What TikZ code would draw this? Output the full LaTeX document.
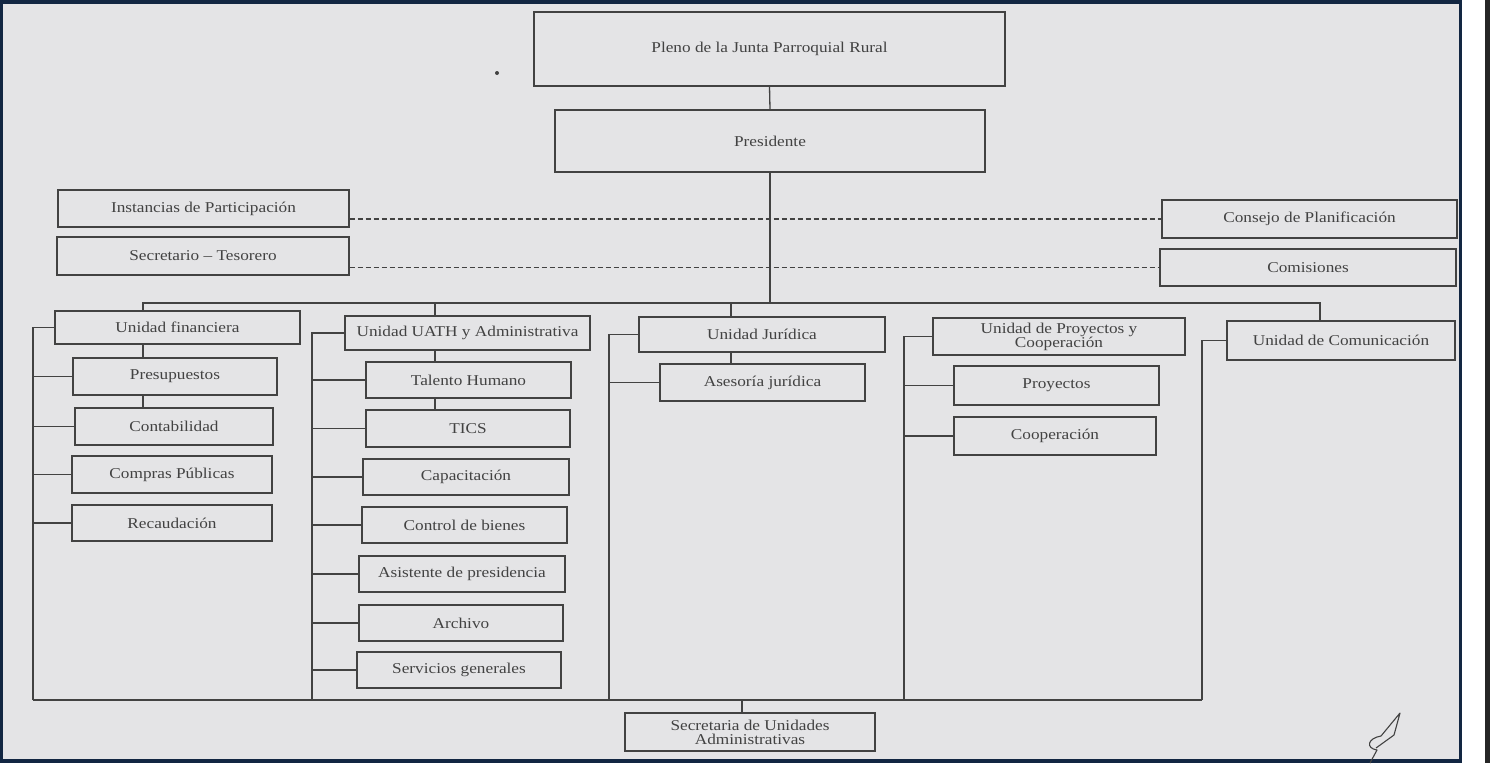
\documentclass[tikz,border=0pt]{standalone}
\usepackage{fontspec}
\setmainfont[FakeStretch=1.15]{Liberation Serif}
\usepackage{tikz}

\definecolor{paper}{RGB}{228,228,230}
\definecolor{ink}{RGB}{66,66,66}
\definecolor{frame}{RGB}{18,38,66}

\begin{document}
\begin{tikzpicture}[x=1pt, y=-1pt,
    unit/.style={draw=ink, line width=1.4pt, fill=paper, text=ink, inner sep=0pt,
                 align=center, font=\fontsize{15}{14}\selectfont},
    link/.style={draw=ink, line width=1.3pt},
    dotted link/.style={draw=ink, line width=1.3pt, dash pattern=on 5pt off 3pt}]
    \useasboundingbox (0,0) rectangle (1490,763);

    % Scanned page
    \fill[paper] (0,0) rectangle (1460,763);
    \fill[white] (1460,0) rectangle (1490,763);
    \fill[frame] (0,0) rectangle (1460,4);
    \fill[frame] (0,0) rectangle (3,763);
    \fill[frame] (0,759) rectangle (1460,763);
    \fill[frame] (1459,0) rectangle (1462,763);
    \fill[black!85] (1485,0) rectangle (1490,763);
    \fill[ink] (497,73) circle (2);

    % Top levels
    \node[unit, minimum width=471, minimum height=74] (pleno) at (769.5,49) {Pleno de la Junta Parroquial Rural};
    \node[unit, minimum width=430, minimum height=62] (pres) at (770,141) {Presidente};

    % Side bodies
    \node[unit, minimum width=291, minimum height=37] (inst) at (203.5,208.5) {Instancias de Participación};
    \node[unit, minimum width=292, minimum height=38] (secr) at (203,256) {Secretario -- Tesorero};
    \node[unit, minimum width=295, minimum height=38] (cons) at (1309.5,219) {Consejo de Planificación};
    \node[unit, minimum width=296, minimum height=37] (comi) at (1308,267.5) {Comisiones};

    % Unidad financiera
    \node[unit, minimum width=245, minimum height=33] (ufin) at (177.5,327.5) {Unidad financiera};
    \node[unit, minimum width=204, minimum height=37] (presu) at (175,376.5) {Presupuestos};
    \node[unit, minimum width=198, minimum height=37] (cont) at (174,426.5) {Contabilidad};
    \node[unit, minimum width=200, minimum height=37] (comp) at (172,474.5) {Compras Públicas};
    \node[unit, minimum width=200, minimum height=36] (reca) at (172,523) {Recaudación};

    % Unidad UATH
    \node[unit, minimum width=245, minimum height=34] (uath) at (467.5,333) {Unidad UATH y Administrativa};
    \node[unit, minimum width=205, minimum height=36] (tal) at (468.5,380) {Talento Humano};
    \node[unit, minimum width=204, minimum height=37] (tics) at (468,428.5) {TICS};
    \node[unit, minimum width=206, minimum height=36] (capa) at (466,477) {Capacitación};
    \node[unit, minimum width=205, minimum height=36] (ctrl) at (464.5,525) {Control de bienes};
    \node[unit, minimum width=206, minimum height=36] (asis) at (462,574) {Asistente de presidencia};
    \node[unit, minimum width=204, minimum height=36] (arch) at (461,623) {Archivo};
    \node[unit, minimum width=204, minimum height=36] (serv) at (459,670) {Servicios generales};

    % Unidad Juridica
    \node[unit, minimum width=246, minimum height=35] (jur) at (762,334.5) {Unidad Jurídica};
    \node[unit, minimum width=205, minimum height=37] (ases) at (762.5,382.5) {Asesoría jurídica};

    % Proyectos y Cooperacion
    \node[unit, minimum width=252, minimum height=37] (uproy) at (1059,336.5) {Unidad de Proyectos y\\Cooperación};
    \node[unit, minimum width=205, minimum height=39] (proy) at (1056.5,385.5) {Proyectos};
    \node[unit, minimum width=202, minimum height=38] (coop) at (1055,436) {Cooperación};

    % Comunicacion and bottom unit
    \node[unit, minimum width=228, minimum height=39] (comu) at (1341,340.5) {Unidad de Comunicación};
    \node[unit, minimum width=250, minimum height=38] (secua) at (750,732) {Secretaria de Unidades\\Administrativas};

    % Upper connectors
    \coordinate (busL) at (143,303);
    \coordinate (busR) at (1320,303);
    \coordinate (dA) at (435,303);
    \coordinate (dJ) at (731,303);
    \draw[link] (pleno.south) -- (pres.north);
    \draw[link] (pres.south) -- (pres.south |- busL);
    \draw[link] (busL |- ufin.north) -- (busL) -- (busR) -- (busR |- comu.north);
    \draw[link] (dA) -- (dA |- uath.north);
    \draw[link] (dJ) -- (dJ |- jur.north);
    \draw[dotted link] (inst.east |- cons.west) -- (cons.west);
    \draw[dotted link] (secr.east |- comi.west) -- (comi.west);

    % Chains under the units
    \draw[link] (ufin.south -| busL) -- (presu.north -| busL);
    \draw[link] (presu.south -| busL) -- (cont.north -| busL);
    \draw[link] (uath.south -| dA) -- (tal.north -| dA);
    \draw[link] (tal.south -| dA) -- (tics.north -| dA);
    \draw[link] (jur.south -| dJ) -- (ases.north -| dJ);

    % Side spines and lower bus
    \coordinate (sF) at (33,700);
    \coordinate (sA) at (312,700);
    \coordinate (sJ) at (609,700);
    \coordinate (sP) at (904,700);
    \coordinate (sC) at (1202,700);
    \coordinate (sS) at (742,700);
    \draw[link] (sF) -- (sC);
    \draw[link] (sS) -- (sS |- secua.north);
    \foreach \s/\top/\rest in {sF/ufin/{presu,cont,comp,reca},
                               sA/uath/{tal,tics,capa,ctrl,asis,arch,serv},
                               sJ/jur/{ases},
                               sP/uproy/{proy,coop}} {
        \draw[link] (\s) -- (\s |- \top.west) -- (\top.west);
        \foreach \n in \rest
            \draw[link] (\s |- \n.west) -- (\n.west);
    }
    \draw[link] (sC) -- (sC |- comu.west) -- (comu.west);

    % Signature
    \draw[ink, line width=1.1pt, line join=round]
        (1370,763) -- (1377,750) .. controls (1365,748) and (1368,738) .. (1381,736)
        -- (1400,713) -- (1394,735) -- (1376,748);
\end{tikzpicture}
\end{document}
